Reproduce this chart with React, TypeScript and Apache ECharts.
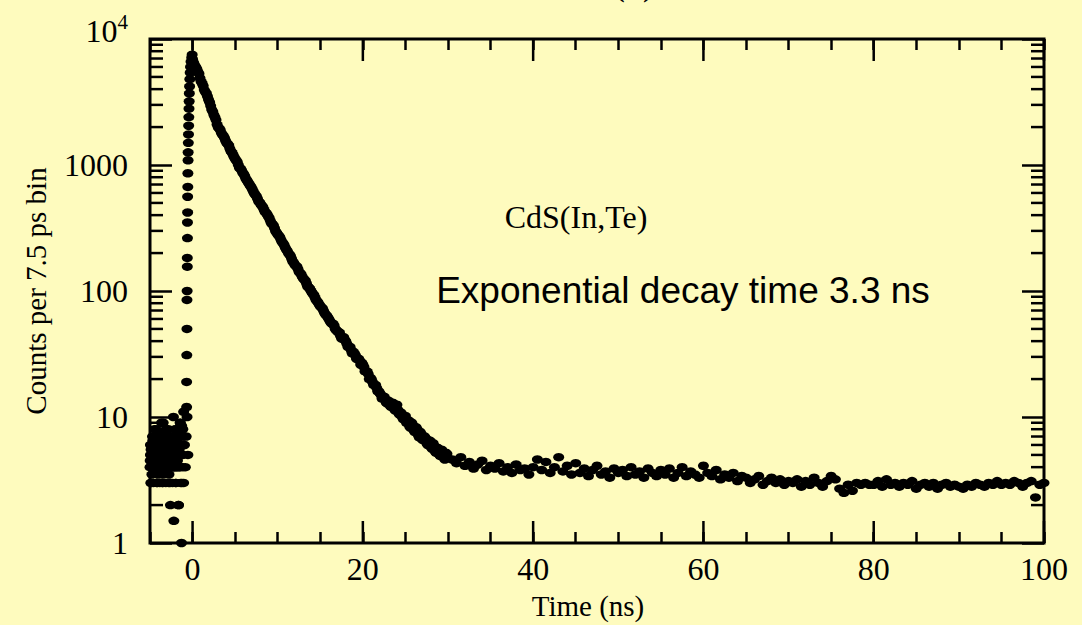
import React, { useEffect, useRef } from "react";
import * as echarts from "echarts";

// ---- axes ----
const X_MIN = -5;
const X_MAX = 100;
const Y_MIN = 1;
const Y_MAX = 10000;
const xMajorTicks = [0, 20, 40, 60, 80, 100];
const yMinorTicks = [
  2, 3, 4, 5, 6, 7, 8, 9,
  20, 30, 40, 50, 60, 70, 80, 90,
  200, 300, 400, 500, 600, 700, 800, 900,
  2000, 3000, 4000, 5000, 6000, 7000, 8000, 9000,
];

// ---- data: background before the pulse ----
const preStart = -5.0;
const preStep = 0.05;
const preCounts = [
  4, 5, 3, 6, 5, 4, 7, 5, 3, 6, 4, 5, 6, 4, 8, 5, 3, 4, 6, 5,
  7, 4, 5, 3, 6, 5, 4, 9, 5, 6, 3, 4, 7, 5, 6, 4, 5, 3, 8, 5,
  6, 4, 5, 7, 3, 5, 6, 4, 2, 5, 4, 6, 5, 3, 7, 4, 1.5, 6, 5, 4,
  8, 3, 5, 6, 4, 7, 5, 2, 6, 4, 5, 9, 3, 6, 1, 5, 7, 4, 6, 3,
];
const pre2Start = -4.95;
const pre2Step = 0.1;
const preCounts2 = [
  6, 3, 5, 7, 4, 8, 5, 6, 3, 4, 7, 5, 6, 4, 3, 9, 5, 6, 7, 4,
  5, 8, 6, 3, 5, 7, 4, 10, 6, 5, 8, 4, 7, 2, 6, 9, 5, 3, 8, 11,
  6, 4, 7, 10, 5,
];
const pre3Start = -4.975;
const pre3Step = 0.1;
const preCounts3 = [
  4.5, 5.5, 3.5, 6.5, 4.5, 5.5, 4, 6.5, 5.5, 3.5, 4.5, 7.5, 5.5, 4.5, 6.5, 3.5, 5.5, 4.5, 6.5, 5,
  4.5, 6, 3.5, 5.5, 7, 4.5, 5.5, 6.5, 4, 5.5, 3, 6.5, 4.5, 7.5, 5.5, 4, 6, 8.5, 5, 7,
];

// ---- data: rising edge ----
const riseTimes = [
  -0.7, -0.7, -0.68, -0.66, -0.66, -0.64, -0.62, -0.62, -0.6, -0.6,
  -0.58, -0.58, -0.56, -0.55, -0.53, -0.52, -0.5, -0.48, -0.46, -0.44,
  -0.42, -0.4, -0.38, -0.35, -0.32, -0.28, -0.24, -0.18, -0.1, -0.05,
];
const riseCounts = [
  12, 19, 31, 50, 85, 100, 156, 183, 263, 350,
  420, 560, 670, 860, 1090, 1260, 1500, 1750, 2050, 2400,
  2800, 3200, 3700, 4200, 4800, 5400, 6000, 6600, 7100, 7500,
];

// ---- data: decay 0..30 ns (two interleaved sets of bins) ----
const decayStart = 0;
const decayStep = 0.25;
const decayCounts = [
  6900, 6200, 5800, 5300, 4600, 4250, 3800, 3500, 3150, 2750,
  2500, 2280, 2000, 1900, 1740, 1640, 1500, 1430, 1290, 1210,
  1120, 1060, 950, 910, 850, 780, 735, 690, 645, 595,
  565, 515, 490, 465, 425, 408, 380, 345, 332, 298,
  282, 268, 245, 232, 214, 200, 190, 172, 162, 157,
  142, 136, 126, 121, 109, 105, 98, 93, 85, 81,
  76, 73, 67, 64, 60, 56, 55, 50, 48, 47,
  42, 43, 40, 36, 36, 32, 32, 29, 29, 26,
  26, 23, 23, 20, 20, 18, 18, 16, 15.5, 14, 14.5,
  13, 13.5, 12.2, 13, 11.4, 12.5, 10.6, 10.8, 9.6, 10.2,
  9.4, 8.4, 9.0, 7.8, 8.3, 7.2, 7.6, 6.6, 7.0, 6.2,
  6.4, 5.8, 6.2, 5.3, 5.7, 5.0, 5.5, 4.8, 5.2, 4.7,
];
const decay2Start = 0.125;
const decay2Step = 0.25;
const decayCounts2 = [
  6500, 6000, 5500, 4900, 4450, 3950, 3700, 3300, 2950, 2650,
  2400, 2100, 1950, 1800, 1700, 1560, 1470, 1350, 1260, 1160,
  1090, 1000, 940, 870, 820, 760, 710, 670, 620, 580,
  540, 505, 475, 445, 418, 392, 362, 340, 315, 290,
  275, 256, 240, 222, 208, 195, 181, 168, 158, 150,
  139, 130, 123, 115, 107, 101, 95, 89, 83, 78,
  74, 70, 65, 62, 58, 55, 53, 49, 47, 44,
  43, 41, 38, 36, 34, 33, 31, 29, 28, 27,
  25, 23, 22, 20.5, 19, 18, 17, 16, 15, 14.2,
  13.8, 12.8, 12.6, 12.0, 12.4, 11.2, 11.4, 10.4, 10.0, 9.9,
  9.0, 9.4, 8.2, 8.6, 7.6, 8.0, 6.9, 7.3, 6.6, 6.8,
  6.0, 6.5, 5.6, 5.9, 5.2, 5.6, 4.9, 5.3, 4.6, 5.1,
];

// ---- data: tail 30.5..100 ns ----
const tailStart = 30.5;
const tailStep = 0.5;
const tailCounts = [
  4.6, 4.3, 4.8, 4.1, 4.4, 3.9, 4.2, 4.5, 3.8, 4.1,
  3.9, 4.3, 3.7, 4.0, 3.6, 4.2, 3.8, 3.9, 3.5, 4.0,
  4.6, 3.8, 4.4, 3.6, 4.0, 4.8, 3.7, 4.1, 3.5, 4.3,
  3.6, 3.9, 3.4, 3.8, 4.1, 3.5, 3.7, 3.3, 3.9, 3.6,
  3.8, 3.4, 4.0, 3.5, 3.7, 3.3, 3.9, 3.6, 3.4, 3.8,
  3.5, 3.9, 3.3, 3.6, 4.0, 3.4, 3.7, 3.5, 3.3, 4.1,
  3.6, 3.4, 3.8, 3.2, 3.5, 3.3, 3.6, 3.1, 3.4, 3.3,
  3.0, 3.2, 3.4, 2.9, 3.1, 3.3, 3.0, 3.2, 2.9, 3.1,
  3.0, 3.2, 2.8, 3.1, 2.9, 3.3, 3.0, 2.8, 3.1, 3.4,
  3.2, 2.7, 2.5, 2.9, 2.6, 3.0, 2.9, 3.0, 2.9, 2.9,
  3.1, 2.8, 3.2, 2.9, 3.0, 2.8, 3.0, 2.9, 3.1, 2.7,
  2.9, 3.0, 2.8, 3.0, 2.7, 2.9, 3.0, 2.8, 2.9, 2.8,
  2.7, 2.9, 2.8, 3.0, 2.9, 2.8, 3.0, 2.9, 3.1, 2.9,
  3.0, 2.9, 3.1, 3.0, 2.8, 3.0, 3.1, 2.3, 2.9, 3.0,
];

const SERIF = "'Liberation Serif', 'Times New Roman', serif";
const SANS = "'Liberation Sans', Arial, sans-serif";

export default function App() {
  const ref = useRef<HTMLDivElement>(null);

  useEffect(() => {
    if (!ref.current) return;
    const chart = echarts.init(ref.current, undefined, { renderer: "svg" });

    const points: number[][] = [];
    preCounts.forEach((v, i) => points.push([preStart + i * preStep, v]));
    preCounts2.forEach((v, i) => points.push([pre2Start + i * pre2Step, v]));
    preCounts3.forEach((v, i) => points.push([pre3Start + i * pre3Step, v]));
    riseCounts.forEach((v, i) => points.push([riseTimes[i], v]));
    decayCounts.forEach((v, i) => points.push([decayStart + i * decayStep, v]));
    decayCounts2.forEach((v, i) => points.push([decay2Start + i * decay2Step, v]));
    tailCounts.forEach((v, i) => points.push([tailStart + i * tailStep, v]));

    const tickStyle = { stroke: "#000", lineWidth: 2.5 };
    const axisTick = { show: true, inside: true, lineStyle: { color: "#000", width: 2.5 } };

    chart.setOption({
      animation: false,
      backgroundColor: "#FEFBBE",
      grid: {
        left: 150,
        right: 38,
        top: 39,
        bottom: 82,
        show: true,
        borderColor: "#000",
        borderWidth: 3,
        backgroundColor: "transparent",
      },
      xAxis: [
        {
          type: "value",
          min: X_MIN,
          max: X_MAX,
          interval: 5,
          position: "bottom",
          axisLine: { show: false, onZero: false },
          splitLine: { show: false },
          axisTick: { ...axisTick, length: 11 },
          axisLabel: {
            color: "#000",
            fontFamily: SERIF,
            fontSize: 32,
            margin: 10,
            formatter: (v: number) => (v % 20 === 0 ? String(v) : ""),
          },
          name: "Time (ns)",
          nameLocation: "middle",
          nameGap: 48,
          nameTextStyle: { color: "#000", fontFamily: SERIF, fontSize: 29, padding: [0, 18, 0, 0] },
        },
        {
          type: "value",
          min: X_MIN,
          max: X_MAX,
          interval: 5,
          position: "top",
          axisLine: { show: false, onZero: false },
          splitLine: { show: false },
          axisTick: { ...axisTick, length: 11 },
          axisLabel: { show: false },
        },
      ],
      yAxis: [
        {
          type: "log",
          logBase: 10,
          min: Y_MIN,
          max: Y_MAX,
          position: "left",
          axisLine: { show: false, onZero: false },
          splitLine: { show: false },
          axisTick: { ...axisTick, length: 22 },
          axisLabel: {
            color: "#000",
            fontFamily: SERIF,
            fontSize: 32,
            margin: 22,
            formatter: (v: number) => (Math.round(v) === 10000 ? "{b|10}{s|4}" : String(Math.round(v))),
            rich: {
              b: { fontFamily: SERIF, fontSize: 32, color: "#000", verticalAlign: "bottom", padding: [0, 0, 20, 0] },
              s: { fontFamily: SERIF, fontSize: 21, color: "#000", verticalAlign: "bottom", padding: [0, 0, 34, 0] },
            },
          },
          name: "Counts per 7.5 ps bin",
          nameLocation: "middle",
          nameGap: 100,
          nameTextStyle: { color: "#000", fontFamily: SERIF, fontSize: 29 },
        },
        {
          type: "log",
          logBase: 10,
          min: Y_MIN,
          max: Y_MAX,
          position: "right",
          axisLine: { show: false, onZero: false },
          splitLine: { show: false },
          axisTick: { ...axisTick, length: 22 },
          axisLabel: { show: false },
        },
      ],
      graphic: [
        {
          type: "text",
          x: 634,
          y: 0,
          style: { text: "(a)", font: `40px ${SERIF}`, fill: "#000", align: "center", verticalAlign: "bottom" },
        },
        {
          type: "text",
          x: 576,
          y: 217,
          style: { text: "CdS(In,Te)", font: `32px ${SERIF}`, fill: "#000", align: "center", verticalAlign: "middle" },
        },
        {
          type: "text",
          x: 683,
          y: 290,
          style: {
            text: "Exponential decay time 3.3 ns",
            font: `37px ${SANS}`,
            fill: "#000",
            align: "center",
            verticalAlign: "middle",
          },
        },
      ],
      series: [
        {
          type: "scatter",
          xAxisIndex: 0,
          yAxisIndex: 0,
          symbol: "circle",
          symbolSize: [11, 8.5],
          itemStyle: { color: "#000", opacity: 1 },
          data: points,
          silent: true,
          z: 2,
        },
        {
          type: "custom",
          xAxisIndex: 0,
          yAxisIndex: 0,
          silent: true,
          z: 3,
          data: xMajorTicks.map((v) => [v, Y_MIN]),
          renderItem: (_p: any, api: any) => {
            const v = api.value(0);
            const b = api.coord([v, Y_MIN]);
            const t = api.coord([v, Y_MAX]);
            return {
              type: "group",
              children: [
                { type: "line", shape: { x1: b[0], y1: b[1], x2: b[0], y2: b[1] - 22 }, style: tickStyle },
                { type: "line", shape: { x1: t[0], y1: t[1], x2: t[0], y2: t[1] + 22 }, style: tickStyle },
              ],
            };
          },
        },
        {
          type: "custom",
          xAxisIndex: 0,
          yAxisIndex: 0,
          silent: true,
          z: 3,
          data: yMinorTicks.map((v) => [X_MIN, v]),
          renderItem: (_p: any, api: any) => {
            const v = api.value(1);
            const l = api.coord([X_MIN, v]);
            const r = api.coord([X_MAX, v]);
            return {
              type: "group",
              children: [
                { type: "line", shape: { x1: l[0], y1: l[1], x2: l[0] + 13, y2: l[1] }, style: tickStyle },
                { type: "line", shape: { x1: r[0], y1: r[1], x2: r[0] - 13, y2: r[1] }, style: tickStyle },
              ],
            };
          },
        },
      ],
    });

    return () => chart.dispose();
  }, []);

  return (
    <div
      ref={ref}
      style={{ position: "fixed", left: 0, top: 0, width: 1082, height: 625 }}
    />
  );
}
